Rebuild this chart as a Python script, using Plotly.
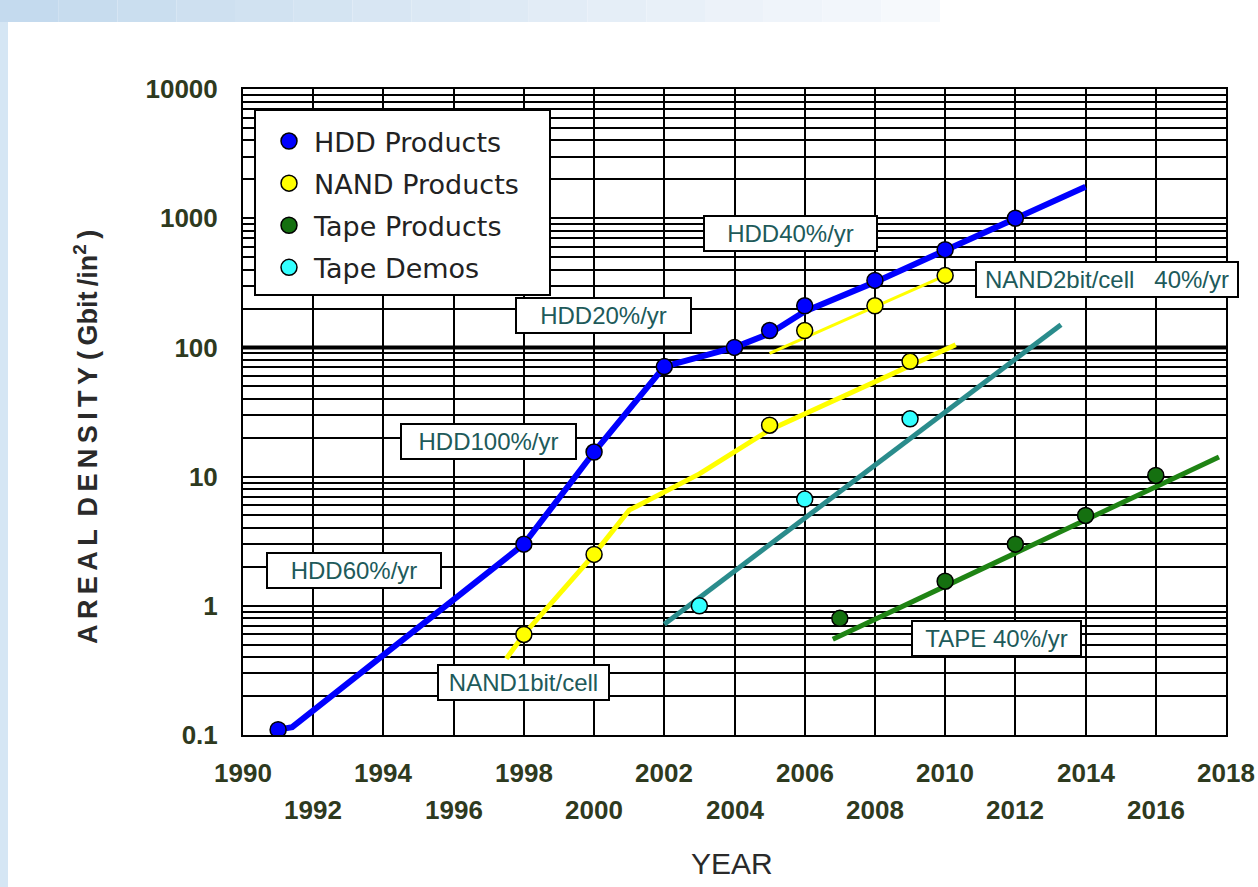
import numpy as np
import plotly.graph_objects as go

# ---------------- data ----------------
hdd_year = [1991, 1998, 2000, 2002, 2004, 2005, 2006, 2008, 2010, 2012]
hdd_density = [0.11, 3.0, 15.5, 71, 100, 135, 210, 330, 570, 1000]

nand_year = [1998, 2000, 2005, 2009, 2006, 2008, 2010]
nand_density = [0.6, 2.5, 25, 78, 135, 210, 360]

tape_year = [2007, 2010, 2012, 2014, 2016]
tape_density = [0.8, 1.55, 3.0, 5.0, 10.2]

demo_year = [2003, 2006, 2009]
demo_density = [1.0, 6.7, 28]

# growth-rate trend lines
hdd_trend_year = [1991, 1991.4, 1998, 2000, 2002, 2002.8, 2004, 2005, 2006, 2008, 2010, 2012, 2014]
hdd_trend_density = [0.11, 0.115, 3.0, 15.5, 71, 81, 100, 128, 190, 320, 560, 980, 1750]

nand1_trend_year = [1997.5, 1998, 2000, 2001, 2003, 2005, 2009, 2010.3]
nand1_trend_density = [0.39, 0.6, 2.5, 5.5, 10.5, 23, 72, 105]

nand2_trend_year = [2005, 2010]
nand2_trend_density = [90, 360]

demo_trend_year = [2002, 2013.3]
demo_trend_density = [0.72, 150]

tape_trend_year = [2006.8, 2017.8]
tape_trend_density = [0.55, 14.2]

# trend labels
rate_labels = ["HDD40%/yr", "HDD20%/yr", "HDD100%/yr", "HDD60%/yr",
               "NAND1bit/cell", "NAND2bit/cell   40%/yr", "TAPE 40%/yr"]
rate_label_year = [2005.6, 2000.28, 1996.99, 1993.17, 1997.98, 2014.62, 2011.47]
rate_label_density = [759, 176, 18.8, 1.885, 0.256, 336, 0.558]
rate_label_width = [169, 171, 171, 170, 167, 258, 165]

# axis ticks
year_ticks = list(range(1990, 2019, 2))
decade_ticks = [0.1, 1, 10, 100, 1000, 10000]
decade_text = ["0.1", "1", "10", "100", "1000", "10000"]

# ---------------- geometry helpers ----------------
W, H = 1258, 887
L, R, T, B = 243, 1226, 89, 735  # plot area in pixels


def px_x(px):
    return (px - L) / (R - L)


def px_y(py):
    return (B - py) / (B - T)


# minor log grid: 2..9 in every decade
minor_vals = [d * k for d in decade_ticks[:-1] for k in range(2, 10)]

fig = go.Figure()

# trend lines
line_specs = [
    (hdd_trend_year, hdd_trend_density, "#0000ff", 6),
    (nand1_trend_year, nand1_trend_density, "#ffff00", 5),
    (nand2_trend_year, nand2_trend_density, "#ffff00", 3),
    (demo_trend_year, demo_trend_density, "#2a8c8c", 5),
    (tape_trend_year, tape_trend_density, "#1f8414", 5),
]
for xs, ys, col, w in line_specs:
    fig.add_trace(go.Scatter(x=xs, y=ys, mode="lines", showlegend=False,
                             hoverinfo="skip", line=dict(color=col, width=w)))

# product / demo points
marker_specs = [
    ("HDD Products", hdd_year, hdd_density, "#0000ff"),
    ("NAND Products", nand_year, nand_density, "#ffff00"),
    ("Tape Products", tape_year, tape_density, "#157010"),
    ("Tape Demos", demo_year, demo_density, "#33ffff"),
]
for i, (name, xs, ys, col) in enumerate(marker_specs):
    fig.add_trace(go.Scatter(
        x=xs, y=ys, mode="markers", name=name, legendgroup=f"g{i}",
        marker=dict(size=16, color=col, line=dict(color="black", width=1.5)),
    ))

tick_font = dict(family="Liberation Sans, Arial, sans-serif",
                 size=26, color="#2e3a1e", weight="bold")

fig.update_layout(
    width=W, height=H,
    margin=dict(l=L, r=W - R, t=T, b=H - B),
    paper_bgcolor="white", plot_bgcolor="white",
    xaxis=dict(range=[1990, 2018], tickvals=year_ticks, showticklabels=False,
               showgrid=True, gridcolor="black", gridwidth=2, zeroline=False,
               showline=True, linecolor="black", linewidth=2, mirror=True, ticks=""),
    yaxis=dict(type="log", range=[-1, 4], tickvals=decade_ticks, ticktext=decade_text,
               showgrid=True, gridcolor="black", gridwidth=2, zeroline=False,
               showline=True, linecolor="black", linewidth=2, mirror=True, ticks="",
               minor=dict(tickvals=minor_vals, showgrid=True, gridcolor="black",
                          gridwidth=2, ticks=""),
               tickfont=tick_font, ticklabelstandoff=18),
    showlegend=True,
    legend=dict(x=px_x(264), y=px_y(117), xanchor="left", yanchor="top",
                bgcolor="rgba(0,0,0,0)", borderwidth=0, itemwidth=40,
                tracegroupgap=4, traceorder="grouped",
                font=dict(family="DejaVu Sans, Verdana, sans-serif", size=27, color="#222222")),
)

shapes = []
# page background strips
top_c0 = np.array([196, 218, 238])
top_c1 = np.array([246, 249, 252])
nseg = 16
for s in range(nseg):
    c = top_c0 + (top_c1 - top_c0) * s / (nseg - 1)
    x0 = 940 * s / nseg
    x1 = 940 * (s + 1) / nseg
    shapes.append(dict(type="rect", xref="paper", yref="paper", layer="below",
                       x0=px_x(x0), x1=px_x(x1), y0=px_y(22), y1=px_y(0),
                       fillcolor="rgb(%d,%d,%d)" % tuple(c.astype(int)), line=dict(width=0)))
shapes.append(dict(type="rect", xref="paper", yref="paper", layer="below",
                   x0=px_x(0), x1=px_x(8), y0=px_y(H), y1=px_y(22),
                   fillcolor="#d5e6f4", line=dict(width=0)))
# heavier rule at 100 Gbit/in2
shapes.append(dict(type="line", xref="paper", yref="y", layer="between",
                   x0=0, x1=1, y0=100, y1=100, line=dict(color="black", width=4)))
# legend frame
shapes.append(dict(type="rect", xref="paper", yref="paper", layer="above",
                   x0=px_x(255), x1=px_x(550), y0=px_y(295), y1=px_y(110),
                   fillcolor="white", line=dict(color="black", width=2)))
fig.update_layout(shapes=shapes)

annotations = []
# trend-rate boxes
for txt, xv, yv, w in zip(rate_labels, rate_label_year, rate_label_density, rate_label_width):
    annotations.append(dict(x=xv, y=np.log10(yv), xref="x", yref="y", text=txt,
                            showarrow=False, width=w, height=31, align="center",
                            bgcolor="white", bordercolor="black", borderwidth=2, borderpad=1,
                            font=dict(family="Liberation Sans, Arial, sans-serif", size=24,
                                      color="#205a5a")))
# staggered year labels
for k, yr in enumerate(year_ticks):
    annotations.append(dict(x=yr, xref="x", yref="paper", y=px_y(773 if k % 2 == 0 else 810),
                            yanchor="middle", text=str(yr), showarrow=False, font=tick_font))
annotations.append(dict(x=px_x(732), y=px_y(863), xref="paper", yref="paper", text="YEAR",
                        showarrow=False, yanchor="middle",
                        font=dict(family="Liberation Sans, Arial, sans-serif", size=30,
                                  color="#2a2a2a")))
ts = "\u2009"
ytitle = ts.join("AREAL") + ts + " " + ts.join("DENSITY") + " (" + ts + "Gbit" + ts + "/in<sup>2</sup>" + ts + ")"
annotations.append(dict(x=px_x(86), y=px_y(437), xref="paper", yref="paper", text=ytitle,
                        textangle=-90, showarrow=False, xanchor="center", yanchor="middle",
                        font=dict(family="Liberation Sans, Arial, sans-serif", size=27,
                                  color="#2a2a2a", weight="bold")))
fig.update_layout(annotations=annotations)

fig.write_html("out.html")
